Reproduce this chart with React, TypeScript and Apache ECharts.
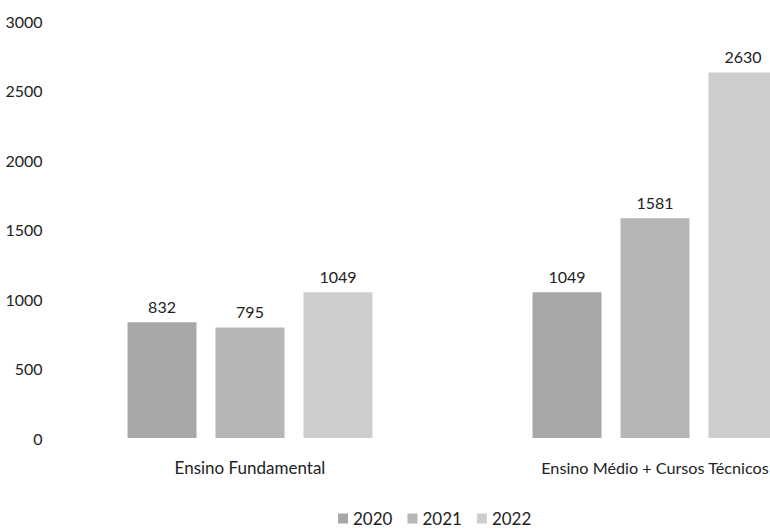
import React, { useEffect, useRef } from "react";
import * as echarts from "echarts";

const categories = ["Ensino Fundamental", "Ensino Médio + Cursos Técnicos"];
const years = ["2020", "2021", "2022"];
const values2020 = [832, 1049];
const values2021 = [795, 1581];
const values2022 = [1049, 2630];
const colors = ["#a7a7a7", "#b6b6b6", "#cdcdcd"];

const FONT = "Lato, 'Open Sans', sans-serif";

export default function App() {
  const ref = useRef<HTMLDivElement>(null);
  useEffect(() => {
    if (!ref.current) return;
    const chart = echarts.init(ref.current, undefined, { renderer: "svg" });
    const seriesData = [values2020, values2021, values2022];
    chart.setOption({
      animation: false,
      backgroundColor: "#ffffff",
      textStyle: { fontFamily: FONT },
      legend: {
        data: years,
        left: 338,
        top: 510,
        padding: 0,
        itemWidth: 10,
        itemHeight: 10,
        itemGap: 15,
        icon: "rect",
        textStyle: { fontSize: 17, color: "#222", fontFamily: FONT },
      },
      grid: { left: 47.5, right: 42.5, top: 21, height: 417, containLabel: false },
      xAxis: {
        type: "category",
        data: categories,
        axisLine: { show: false },
        axisTick: { show: false },
        axisLabel: {
          color: "#222",
          margin: 18,
          fontFamily: FONT,
          formatter: (v: string, i: number) => (i === 0 ? `{a|${v}}` : `{b|${v}}`),
          rich: {
            a: { fontSize: 17, lineHeight: 22, color: "#222", fontFamily: FONT },
            b: { fontSize: 16.2, lineHeight: 22, color: "#222", fontFamily: FONT },
          },
        },
      },
      yAxis: {
        type: "value",
        min: 0,
        max: 3000,
        interval: 500,
        splitLine: { show: false },
        axisLine: { show: false },
        axisTick: { show: false },
        axisLabel: {
          fontSize: 16,
          color: "#222",
          margin: 5,
          fontFamily: FONT,
          formatter: (v: number) => String(v),
        },
      },
      series: years.map((y, i) => ({
        name: y,
        type: "bar",
        data: seriesData[i],
        barWidth: 69,
        barGap: "27.5%",
        itemStyle: { color: colors[i] },
        label: {
          show: true,
          position: "top",
          distance: 8,
          fontSize: 16,
          color: "#222",
          fontFamily: FONT,
        },
      })),
    });
    return () => chart.dispose();
  }, []);
  return (
    <div
      style={{
        position: "absolute",
        left: 0,
        top: 0,
        width: 770,
        height: 529,
        overflow: "hidden",
        background: "#fff",
      }}
    >
      <div ref={ref} style={{ width: 900, height: 529 }} />
    </div>
  );
}
